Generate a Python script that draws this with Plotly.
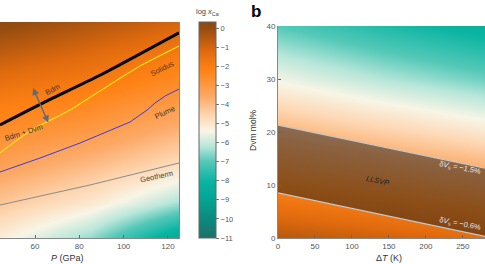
import plotly.graph_objects as go

# ---------------- Panel a data (P in GPa, T in K; log x_Ca field) ----------------
p_grid = [44.2, 84.6, 125.0]
t_grid = [2000, 2500, 3000, 3500, 4000, 4500, 5000]
logx_ca = [
    [-5.2, -6.5, -8.7],
    [-4.2, -5.0, -6.3],
    [-3.3, -4.0, -4.8],
    [-2.6, -3.0, -3.8],
    [-1.8, -2.2, -2.8],
    [-0.8, -1.3, -2.0],
    [0.2, -0.4, -1.0],
]

bdm_p = [44.2, 64.5, 89.3, 125.0]
bdm_t = [3570, 3890, 4260, 4850]

solidus_p = [44.2, 57.7, 75.8, 89.3, 107.4, 125.0]
solidus_t = [3181, 3486, 3778, 4042, 4389, 4667]

plume_p = [44.2, 62.3, 80.3, 93.9, 102.9, 110.6, 114.2, 118.7, 125.0]
plume_t = [2917, 3111, 3319, 3500, 3611, 3778, 3875, 3972, 4069]

geotherm_p = [44.2, 84.8, 125.0]
geotherm_t = [2458, 2736, 3042]

arrow_p = [59.1, 66.3]
arrow_t = [4083, 3583]

p_ticks = [60, 80, 100, 120]

# ---------------- Panel b data (dT in K, Dvm mol%) ----------------
dt_grid = [0, 140, 280]
dvm_grid = [0, 10, 20, 30, 40]
logx_ca_b = [
    [-0.5, -0.9, -1.3],
    [-2.2, -2.6, -3.1],
    [-3.8, -4.4, -5.0],
    [-5.5, -6.2, -6.8],
    [-7.0, -7.7, -8.3],
]
llsvp_dt = [0, 280]
vs15_dvm = [21.3, 13.2]
vs06_dvm = [8.5, 0.3]
dt_ticks = [0, 50, 100, 150, 200, 250]
dvm_ticks = [0, 10, 20, 30, 40]

cbar_ticks = list(range(-11, 1))

colorscale = [
    [0.000, "#1f6f66"],
    [0.088, "#0d8a7e"],
    [0.177, "#05a393"],
    [0.265, "#0bb5a2"],
    [0.353, "#54c8b8"],
    [0.424, "#b8e6da"],
    [0.494, "#f8f5e6"],
    [0.565, "#fdd8b4"],
    [0.653, "#fcaa68"],
    [0.777, "#ff8214"],
    [0.865, "#e06a0e"],
    [0.971, "#964c10"],
    [1.000, "#8a4812"],
]

W, H = 485, 264
FONT = "Liberation Sans, Arial, sans-serif"

def px(x):
    return x / W

def py(y):
    return 1 - y / H

fig = go.Figure()

# Panel a heatmap
fig.add_trace(go.Heatmap(x=p_grid, y=t_grid, z=logx_ca, coloraxis="coloraxis",
                         zsmooth="best", xaxis="x", yaxis="y", hoverinfo="skip"))
fig.add_trace(go.Scatter(x=geotherm_p, y=geotherm_t, mode="lines",
                         line=dict(color="#8a8a8a", width=1), xaxis="x", yaxis="y"))
fig.add_trace(go.Scatter(x=plume_p, y=plume_t, mode="lines",
                         line=dict(color="#3b3be0", width=1), xaxis="x", yaxis="y"))
fig.add_trace(go.Scatter(x=solidus_p, y=solidus_t, mode="lines",
                         line=dict(color="#f2e21a", width=1.2, shape="spline", smoothing=0.6),
                         xaxis="x", yaxis="y"))
fig.add_trace(go.Scatter(x=bdm_p, y=bdm_t, mode="lines",
                         line=dict(color="#000000", width=3, shape="spline", smoothing=0.6),
                         xaxis="x", yaxis="y"))

# Panel b heatmap
fig.add_trace(go.Heatmap(x=dt_grid, y=dvm_grid, z=logx_ca_b, coloraxis="coloraxis",
                         zsmooth="best", xaxis="x2", yaxis="y2", hoverinfo="skip"))
fig.add_trace(go.Scatter(x=llsvp_dt + llsvp_dt[::-1], y=vs15_dvm + vs06_dvm[::-1],
                         mode="none", fill="toself", fillcolor="rgba(25,25,25,0.5)",
                         xaxis="x2", yaxis="y2"))
fig.add_trace(go.Scatter(x=llsvp_dt, y=vs15_dvm, mode="lines",
                         line=dict(color="#c8c8c8", width=1.2), xaxis="x2", yaxis="y2"))
fig.add_trace(go.Scatter(x=llsvp_dt, y=vs06_dvm, mode="lines",
                         line=dict(color="#c8c8c8", width=1.2), xaxis="x2", yaxis="y2"))

tickfont = dict(family=FONT, size=8, color="#555555")

fig.update_layout(
    width=W, height=H, margin=dict(l=0, r=0, t=0, b=0, autoexpand=False),
    paper_bgcolor="white", plot_bgcolor="white", showlegend=False,
    font=dict(family=FONT, size=8, color="#444444"),
    coloraxis=dict(
        cmin=-11, cmax=0.33, colorscale=colorscale,
        colorbar=dict(
            x=px(199), xanchor="left", xpad=0, ypad=0,
            y=py(130), yanchor="middle", lenmode="pixels", len=216,
            thicknessmode="pixels", thickness=17,
            tickvals=cbar_ticks, ticks="outside", ticklen=3, tickcolor="#777",
            tickfont=dict(family=FONT, size=7.5, color="#555"),
            outlinewidth=1, outlinecolor="#666",
        ),
    ),
    xaxis=dict(domain=[0, px(179)], range=[44.2, 125.0], tickvals=p_ticks,
               ticks="inside", ticklen=3, tickcolor="#666", tickfont=tickfont,
               showline=True, linecolor="#888", linewidth=1, showgrid=False, zeroline=False,
               automargin=False),
    yaxis=dict(domain=[py(238), py(22)], range=[2000, 5000], showticklabels=False,
               ticks="", showline=True, mirror=True, linecolor="#888", linewidth=1,
               showgrid=False, zeroline=False, automargin=False),
    xaxis2=dict(domain=[px(278), 1.0], range=[0, 280], tickvals=dt_ticks,
                ticks="inside", ticklen=3, tickcolor="#666", tickfont=tickfont,
                showline=True, linecolor="#888", linewidth=1, showgrid=False,
                zeroline=False, anchor="y2", automargin=False),
    yaxis2=dict(domain=[py(238), py(26)], range=[0, 40], tickvals=dvm_ticks,
                ticks="inside", ticklen=3, tickcolor="#666", tickfont=tickfont,
                showline=True, linecolor="#888", linewidth=1, showgrid=False,
                zeroline=False, anchor="x2", automargin=False),
)

ann = []
def lab(text, x, y, xref, yref, angle=0, size=7.5, color="#3a3a3a",
        xanchor="center", yanchor="middle"):
    ann.append(dict(text=text, x=x, y=y, xref=xref, yref=yref, textangle=angle,
                    xanchor=xanchor, yanchor=yanchor, showarrow=False,
                    font=dict(family=FONT, size=size, color=color)))

# Panel a labels
lab("Bdm", 68.0, 4060, "x", "y", angle=-28)
lab("Bdm + Dvm", 55.0, 3470, "x", "y", angle=-18)
lab("Solidus", 117.5, 4350, "x", "y", angle=-27, color="#4a3420")
lab("Plume", 118.5, 3750, "x", "y", angle=-25, color="#4a3420")
lab("Geotherm", 115.0, 2850, "x", "y", angle=-12, color="#444444")
ann.append(dict(x=arrow_p[0], y=arrow_t[0], ax=arrow_p[1], ay=arrow_t[1],
                xref="x", yref="y", axref="x", ayref="y", text="", showarrow=True,
                arrowhead=2, arrowside="end+start", arrowsize=1, arrowwidth=1.4,
                arrowcolor="#5f6a7a", startarrowhead=2, startarrowsize=1))

# Panel b labels
lab("<i>LLSVP</i>", 134, 10.9, "x2", "y2", angle=12, color="#222222")
lab("δ<i>V</i><sub>s</sub> = −1.5%", px(484), py(168), "paper", "paper", angle=11,
    color="#e6e6e6", xanchor="right")
lab("δ<i>V</i><sub>s</sub> = −0.6%", px(484), py(224), "paper", "paper", angle=11,
    color="#e6e6e6", xanchor="right")

# Axis titles / panel letter / colorbar title
lab("<i>P</i> (GPa)", px(67), py(258), "paper", "paper", size=9, color="#333333")
lab("Δ<i>T</i> (K)", px(389), py(258), "paper", "paper", size=9, color="#333333")
lab("Dvm mol%", px(253), py(130), "paper", "paper", angle=-90, size=8.5, color="#333333")
lab("log <i>x</i><sub>Ca</sub>", px(207), py(12), "paper", "paper", size=7.5, color="#444444")
lab("<b>b</b>", px(256), py(0), "paper", "paper", size=17, color="#000000", yanchor="top")

fig.update_layout(annotations=ann)

fig.write_html("out.html", post_script="document.body.style.margin='0';",
               config={"displayModeBar": False})
